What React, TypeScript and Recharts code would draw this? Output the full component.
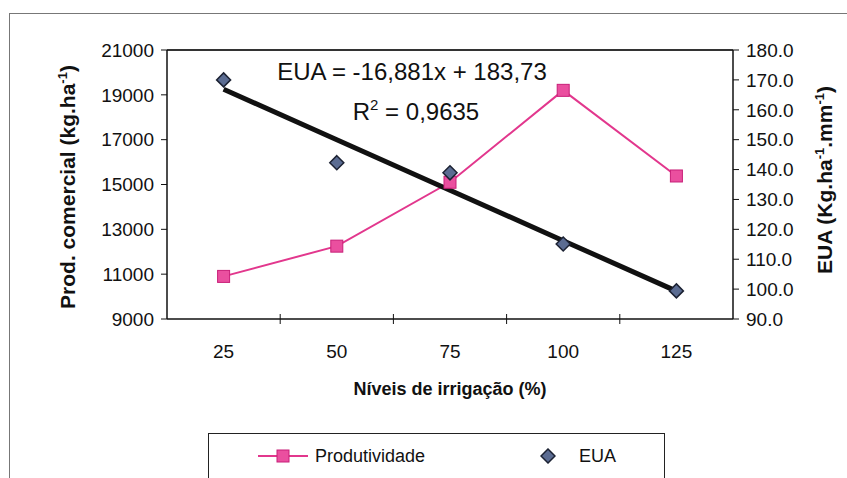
import { ComposedChart, Line, XAxis, YAxis, Legend } from 'recharts'

const levels = ['25', '50', '75', '100', '125']
const produtividade = [10900, 12250, 15100, 19200, 15380]
const eua = [170.0, 142.3, 138.9, 115.1, 99.4]
const euaTrend = [166.85, 149.97, 133.09, 116.21, 99.33]
const leftTicks = [9000, 11000, 13000, 15000, 17000, 19000, 21000]
const rightTicks = [90, 100, 110, 120, 130, 140, 150, 160, 170, 180]

const data = levels.map((level, i) => ({
  level,
  produtividade: produtividade[i],
  eua: eua[i],
  trend: euaTrend[i],
}))

const FONT = '"Liberation Sans", Arial, sans-serif'
const PINK = '#e2378d'

function Square(props: any) {
  const { cx, cy } = props
  if (cx == null || cy == null) return null
  return <rect x={cx - 6} y={cy - 6} width={12} height={12} fill="#ea4f9f" stroke="#c81f78" strokeWidth={1} />
}

function Diamond(props: any) {
  const { cx, cy } = props
  if (cx == null || cy == null) return null
  const r = 7
  return (
    <path
      d={`M${cx},${cy - r} L${cx + r},${cy} L${cx},${cy + r} L${cx - r},${cy} Z`}
      fill="#5b6c92"
      stroke="#1c2233"
      strokeWidth={1.5}
    />
  )
}

function CategoryTick(props: any) {
  const { x, y, payload, index } = props
  const half = payload.offset ?? 0
  return (
    <g>
      {index > 0 && <line x1={x - half} x2={x - half} y1={y - 5} y2={y + 5} stroke="#111" />}
      <text x={x} y={y + 39} textAnchor="middle" fontSize={19} fontFamily={FONT} fill="#111">
        {payload.value}
      </text>
    </g>
  )
}

// draws the upper edge of the plot frame from the plot's own offset
function PlotTop(props: any) {
  const off = props.offset
  if (!off) return null
  return <line x1={off.left} x2={off.left + off.width} y1={off.top} y2={off.top} stroke="#333" strokeWidth={2} />
}

function LegendBox() {
  return (
    <div
      style={{
        width: 457,
        height: 46,
        border: '1.5px solid #222',
        boxSizing: 'border-box',
        background: '#fff',
        display: 'flex',
        alignItems: 'center',
        fontFamily: FONT,
        fontSize: 18,
        color: '#111',
      }}
    >
      <svg width={50} height={20} style={{ marginLeft: 49 }}>
        <line x1={0} x2={50} y1={10} y2={10} stroke={PINK} strokeWidth={2} />
        <rect x={19} y={4} width={12} height={12} fill="#ea4f9f" stroke="#c81f78" />
      </svg>
      <span style={{ marginLeft: 7 }}>Produtividade</span>
      <svg width={16} height={16} style={{ marginLeft: 115 }}>
        <path d="M8,1 L15,8 L8,15 L1,8 Z" fill="#5b6c92" stroke="#1c2233" strokeWidth={1.5} />
      </svg>
      <span style={{ marginLeft: 23 }}>EUA</span>
    </div>
  )
}

export default function App() {
  return (
    <div style={{ position: 'absolute', left: 0, top: 0, width: 847, height: 478, background: '#fff', overflow: 'hidden' }}>
      <div style={{ position: 'absolute', left: 9, top: 13, width: 860, height: 500, border: '1px solid #777' }} />
      <ComposedChart
        width={847}
        height={478}
        data={data}
        margin={{ top: 50, right: 0, bottom: 0, left: 0 }}
      >
        <XAxis
          dataKey="level"
          scale="band"
          height={159}
          tickLine={false}
          tickSize={0}
          tickMargin={0}
          tick={<CategoryTick />}
          axisLine={{ stroke: '#111', strokeWidth: 1.5 }}
          label={{
            value: 'Níveis de irrigação (%)',
            position: 'insideTop',
            offset: 63,
            fontSize: 18,
            fontWeight: 'bold',
            fontFamily: FONT,
            fill: '#111',
          }}
        />
        <YAxis
          yAxisId="left"
          width={167}
          domain={[9000, 21000]}
          ticks={leftTicks}
          interval={0}
          tickSize={6}
          tickMargin={7}
          tick={{ fontSize: 19, fontFamily: FONT, fill: '#111' }}
          tickLine={{ stroke: '#111' }}
          axisLine={{ stroke: '#111', strokeWidth: 1.5 }}
        />
        <YAxis
          yAxisId="right"
          orientation="right"
          width={114}
          domain={[90, 180]}
          ticks={rightTicks}
          interval={0}
          tickSize={6}
          tickMargin={7}
          tickFormatter={(v: number) => v.toFixed(1)}
          tick={{ fontSize: 19, fontFamily: FONT, fill: '#111' }}
          tickLine={{ stroke: '#111' }}
          axisLine={{ stroke: '#111', strokeWidth: 1.5 }}
        />
        <Line
          yAxisId="left"
          dataKey="produtividade"
          name="Produtividade"
          stroke={PINK}
          strokeWidth={2}
          dot={<Square />}
          activeDot={false}
          isAnimationActive={false}
        />
        <Line
          yAxisId="right"
          dataKey="trend"
          stroke="#111"
          strokeWidth={5}
          dot={false}
          activeDot={false}
          legendType="none"
          isAnimationActive={false}
        />
        <Line
          yAxisId="right"
          dataKey="eua"
          name="EUA"
          stroke="none"
          dot={<Diamond />}
          activeDot={false}
          isAnimationActive={false}
        />
        <line x1={167} x2={733} y1={50} y2={50} stroke="#333" strokeWidth={2} />
        <text x={75} y={187} transform="rotate(-90 75 187)" textAnchor="middle" fontSize={21} fontWeight="bold" fontFamily={FONT} fill="#111">
          Prod. comercial (kg.ha<tspan dy={-8} fontSize={13}>-1</tspan><tspan dy={8}>)</tspan>
        </text>
        <text x={832} y={180} transform="rotate(-90 832 180)" textAnchor="middle" fontSize={21} fontWeight="bold" fontFamily={FONT} fill="#111">
          EUA (Kg.ha<tspan dy={-8} fontSize={13}>-1</tspan><tspan dy={8}>.mm</tspan><tspan dy={-8} fontSize={13}>-1</tspan><tspan dy={8}>)</tspan>
        </text>
        <text x={412} y={80} textAnchor="middle" fontSize={24} fontFamily={FONT} fill="#111">
          EUA = -16,881x + 183,73
        </text>
        <text x={416} y={120} textAnchor="middle" fontSize={24} fontFamily={FONT} fill="#111">
          R<tspan dy={-10} fontSize={15}>2</tspan><tspan dy={10}> = 0,9635</tspan>
        </text>
        <Legend
          layout="horizontal"
          verticalAlign="middle"
          content={<LegendBox />}
          wrapperStyle={{ position: 'absolute', left: 208, top: 433, width: 457, height: 46 }}
        />
      </ComposedChart>
    </div>
  )
}
